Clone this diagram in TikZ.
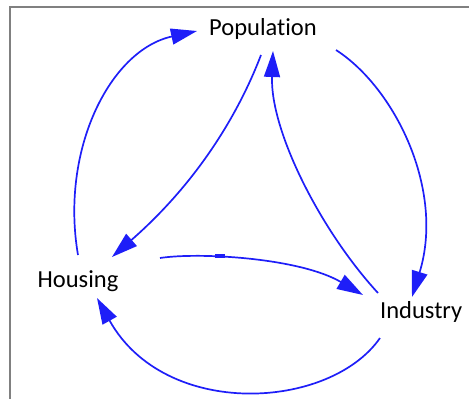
\documentclass[tikz,border=0pt]{standalone}
\usepackage{fontspec}
\setmainfont{Carlito}[Ligatures={NoCommon}]
\usetikzlibrary{arrows.meta}
\definecolor{arrowblue}{RGB}{30,30,248}
\definecolor{framegray}{RGB}{128,128,128}
\begin{document}
\begin{tikzpicture}[x=1pt,y=-1pt,
  label/.style={inner sep=0pt,anchor=base west,font=\fontsize{24.5}{28}\selectfont},
  link/.style={draw=arrowblue,line width=1.7pt,-{Triangle[length=26pt,width=16pt]}}]
\useasboundingbox (0,0) rectangle (469,399);
\draw[framegray,line width=2pt] (10,400) -- (10,7) -- (470,7);
\node[label] (pop) at (209,35) {Population};
\node[label] (hous) at (37.5,287) {Housing};
\node[label] (ind) at (380,318) {Industry};
% connector end points
\coordinate (h1) at (78,255);
\coordinate (p1) at (197,31);
\coordinate (p2) at (261,55);
\coordinate (h2) at (112,257);
\coordinate (i3) at (378,293);
\coordinate (p3) at (273,51);
\coordinate (p4) at (336,50);
\coordinate (i4) at (412,297);
\coordinate (i5) at (380,338);
\coordinate (h5) at (97,298);
\coordinate (h6) at (160,258);
\coordinate (i6) at (363,295);
\draw[link] (h1) .. controls (60,150) and (110,50) .. (p1);
\draw[link] (p2) .. controls (240,110) and (200,180) .. (h2);
\draw[link] (i3) .. controls (320,230) and (270,130) .. (p3);
\draw[link] (p4) .. controls (395,88) and (445,190) .. (i4);
\draw[link] (i5) .. controls (330,410) and (165,420) .. (h5);
\draw[link] (h6) .. controls (200,252) and (300,258) .. (i6);
\fill[arrowblue] (215,253.5) rectangle (225,257.5);
\end{tikzpicture}
\end{document}
